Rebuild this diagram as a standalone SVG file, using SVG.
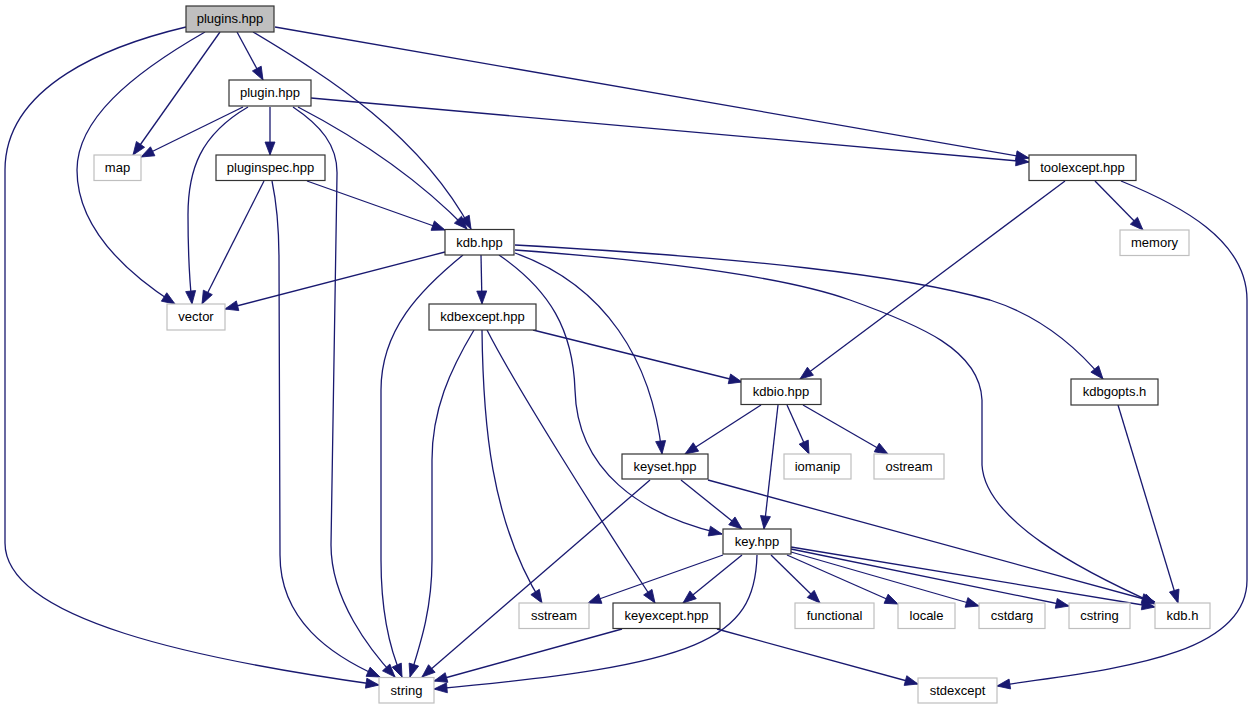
<svg xmlns="http://www.w3.org/2000/svg" width="1254" height="709" viewBox="0 0 1254 709">
<style>
.n rect{fill:#fff;stroke:#333;stroke-width:1.2}
.n.root rect{fill:#bfbfbf}
.n.sys rect{stroke:#bfbfbf}
.n text{font-family:"Liberation Sans",Arial,sans-serif;font-size:13px;text-anchor:middle;fill:#000}
#edges path{fill:none;stroke:#191970;stroke-width:1.3;marker-end:url(#ah)}
</style>
<defs>
<marker id="ah" markerUnits="userSpaceOnUse" markerWidth="13" markerHeight="10" refX="13" refY="5" orient="auto" overflow="visible">
<path d="M0,0 L13,5 L0,10 z" fill="#191970" stroke="#191970" stroke-width="0.8"/>
</marker>
</defs>
<rect width="1254" height="709" fill="#fff"/>
<g id="edges">
<path d="M186,27 C110,45 5,85 5,170 L5,543 C5,620 200,660 379,685"/>
<path d="M205,32 C130,75 77,120 77,170 C77,230 130,275 175,304"/>
<path d="M220,32 L133,155"/>
<path d="M237,32 L263,80"/>
<path d="M253,32 C330,78 420,135 471,229"/>
<path d="M275,27 L1029,158"/>
<path d="M243,107 L141,157"/>
<path d="M248,107 C200,135 188,170 188,215 C188,255 190,285 192,304"/>
<path d="M270,107 L270,155"/>
<path d="M293,107 C320,125 338,145 337,175 L331,545 C331,600 370,650 395,677"/>
<path d="M298,107 Q400,160 467,229"/>
<path d="M311,98 L1029,162"/>
<path d="M264,181 L202,304"/>
<path d="M272,181 C276,200 279,220 279,260 L280,555 C280,620 330,655 380,677"/>
<path d="M307,181 L445,230"/>
<path d="M445,252 L225,309"/>
<path d="M463,255 C420,290 381,330 381,390 L381,560 C381,610 390,650 402,677"/>
<path d="M481,255 L482,304"/>
<path d="M499,255 C550,290 573,330 575,390 C577,470 640,515 722,534"/>
<path d="M515,253 C605,285 652,360 662,454"/>
<path d="M515,250 C650,260 780,275 850,300 C920,325 980,350 982,400 L982,465 C985,520 1080,570 1156,604"/>
<path d="M515,245 C750,258 900,275 990,300 C1040,316 1075,345 1103,379"/>
<path d="M474,330 C450,370 432,410 432,460 L432,560 C432,610 420,645 410,677"/>
<path d="M482,330 C483,420 490,520 542,603"/>
<path d="M487,330 C515,385 600,520 655,603"/>
<path d="M533,330 L742,382"/>
<path d="M1065,181 L800,379"/>
<path d="M1095,181 L1143,230"/>
<path d="M1121,181 C1180,205 1247,240 1247,300 L1247,580 C1247,660 1100,670 997,686"/>
<path d="M761,405 L685,454"/>
<path d="M778,405 L764,529"/>
<path d="M787,405 L809,454"/>
<path d="M803,405 L888,454"/>
<path d="M1118,405 L1178,603"/>
<path d="M650,480 L422,677"/>
<path d="M681,480 L742,529"/>
<path d="M708,480 L1155,602"/>
<path d="M723,555 L588,603"/>
<path d="M742,555 L683,603"/>
<path d="M757,555 C755,640 700,665 434,689"/>
<path d="M771,555 L820,603"/>
<path d="M787,555 L898,604"/>
<path d="M791,552 L979,606"/>
<path d="M791,549 L1069,606"/>
<path d="M791,547 L1155,607"/>
<path d="M622,629 L434,681"/>
<path d="M717,629 L918,684"/>
</g>
<g id="n-plugins" class="n root"><rect x="186" y="6" width="88" height="26"/><text x="230" y="23">plugins.hpp</text></g>
<g id="n-plugin" class="n"><rect x="229" y="80" width="82" height="26"/><text x="270" y="97">plugin.hpp</text></g>
<g id="n-map" class="n sys"><rect x="94" y="155" width="47" height="25.5"/><text x="117.5" y="172">map</text></g>
<g id="n-pluginspec" class="n"><rect x="216" y="155" width="109" height="25.5"/><text x="270.5" y="172">pluginspec.hpp</text></g>
<g id="n-toolexcept" class="n"><rect x="1029" y="155" width="107" height="25.5"/><text x="1082.5" y="172">toolexcept.hpp</text></g>
<g id="n-memory" class="n sys"><rect x="1120" y="230" width="69" height="25.5"/><text x="1154.5" y="247">memory</text></g>
<g id="n-kdbhpp" class="n"><rect x="445" y="229.5" width="69" height="25.5"/><text x="479.5" y="246.5">kdb.hpp</text></g>
<g id="n-vector" class="n sys"><rect x="167" y="304" width="58" height="26"/><text x="196" y="321">vector</text></g>
<g id="n-kdbexcept" class="n"><rect x="429" y="304" width="107" height="26"/><text x="482.5" y="321">kdbexcept.hpp</text></g>
<g id="n-kdbio" class="n"><rect x="741" y="379" width="80" height="25.5"/><text x="781" y="396">kdbio.hpp</text></g>
<g id="n-kdbgopts" class="n"><rect x="1071" y="379" width="87" height="26"/><text x="1114.5" y="396">kdbgopts.h</text></g>
<g id="n-keyset" class="n"><rect x="622" y="454" width="86" height="25"/><text x="665" y="471">keyset.hpp</text></g>
<g id="n-iomanip" class="n sys"><rect x="784" y="454" width="67" height="25"/><text x="817.5" y="471">iomanip</text></g>
<g id="n-ostream" class="n sys"><rect x="874" y="454" width="70" height="25"/><text x="909" y="471">ostream</text></g>
<g id="n-key" class="n"><rect x="723" y="529" width="68" height="25"/><text x="757" y="546">key.hpp</text></g>
<g id="n-sstream" class="n sys"><rect x="519" y="603" width="70" height="25.5"/><text x="554" y="620">sstream</text></g>
<g id="n-keyexcept" class="n"><rect x="613" y="603" width="107" height="25.5"/><text x="666.5" y="620">keyexcept.hpp</text></g>
<g id="n-functional" class="n sys"><rect x="795" y="603" width="79" height="25.5"/><text x="834.5" y="620">functional</text></g>
<g id="n-locale" class="n sys"><rect x="898" y="603" width="57" height="25.5"/><text x="926.5" y="620">locale</text></g>
<g id="n-cstdarg" class="n sys"><rect x="979" y="603" width="66" height="25.5"/><text x="1012" y="620">cstdarg</text></g>
<g id="n-cstring" class="n sys"><rect x="1069" y="603" width="61" height="25.5"/><text x="1099.5" y="620">cstring</text></g>
<g id="n-kdbh" class="n sys"><rect x="1155" y="603" width="55" height="25.5"/><text x="1182.5" y="620">kdb.h</text></g>
<g id="n-string" class="n sys"><rect x="379" y="677.5" width="55" height="25.5"/><text x="406.5" y="694.5">string</text></g>
<g id="n-stdexcept" class="n sys"><rect x="918" y="678" width="79" height="25"/><text x="957.5" y="695">stdexcept</text></g>
</svg>
